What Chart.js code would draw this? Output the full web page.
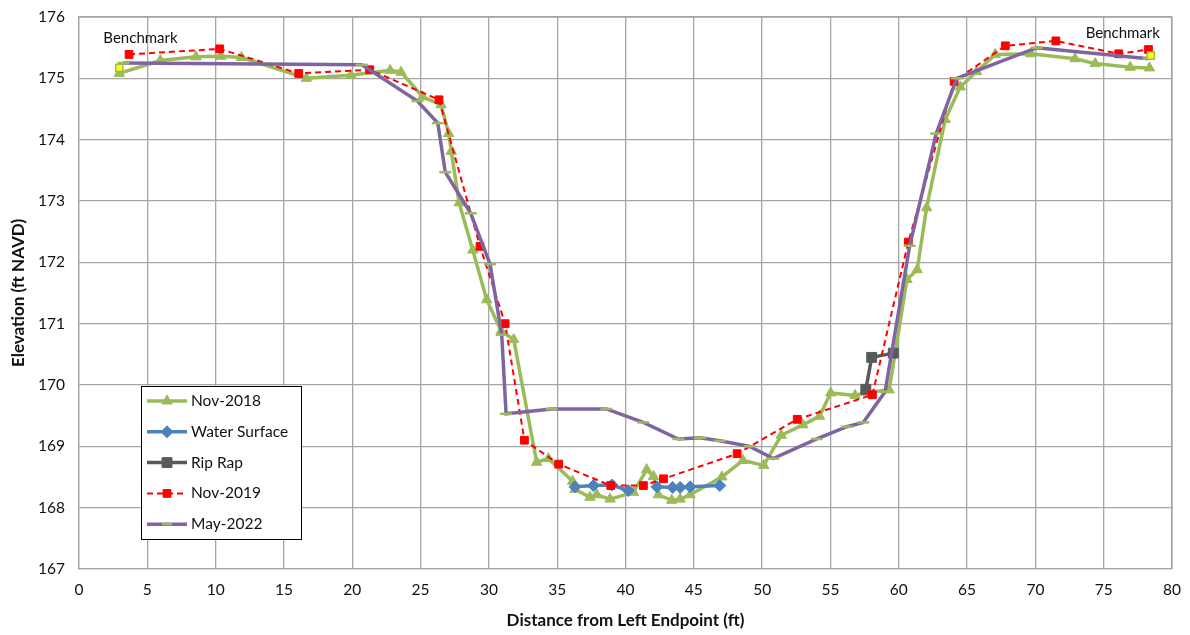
<!DOCTYPE html>
<html>
<head>
<meta charset="utf-8">
<script src="https://cdn.jsdelivr.net/npm/chart.js@4/dist/chart.umd.min.js"></script>
<style>
  html, body { margin: 0; padding: 0; background: #fff; }
  #wrap { width: 1190px; height: 635px; position: relative; }
</style>
</head>
<body>
<div id="wrap"><canvas id="chart"></canvas></div>
<script>
// survey points (distance ft, elevation ft NAVD)
const nov2018X = [2.95, 5.95, 8.56, 10.37, 11.9, 16.64, 19.9, 22.77, 23.57, 25.15, 26.5, 27.06, 27.25, 27.82, 28.82, 29.84, 30.9, 31.82, 33.5, 34.36, 36.13, 36.3, 37.4, 37.9, 38.87, 40.58, 41.55, 42.05, 42.4, 43.38, 44.0, 44.73, 47.05, 48.6, 50.12, 51.4, 52.98, 54.2, 55.02, 56.8, 57.6, 59.3, 60.6, 61.35, 62.04, 63.4, 64.5, 65.7, 67.06, 69.67, 72.9, 74.38, 76.94, 78.35];
const nov2018Y = [175.08, 175.29, 175.35, 175.36, 175.34, 175.0, 175.05, 175.13, 175.1, 174.7, 174.57, 174.1, 173.81, 172.97, 172.2, 171.39, 170.88, 170.74, 168.74, 168.8, 168.43, 168.3, 168.17, 168.21, 168.14, 168.25, 168.62, 168.51, 168.21, 168.12, 168.14, 168.21, 168.5, 168.77, 168.69, 169.18, 169.35, 169.49, 169.87, 169.83, 169.88, 169.92, 171.72, 171.88, 172.89, 174.33, 174.86, 175.11, 175.39, 175.4, 175.32, 175.24, 175.18, 175.17];

const waterX = [36.3, 37.65, 39.0, 40.2, 41.2, 42.3, 43.45, 44.0, 44.73, 46.9];
const waterY = [168.34, 168.36, 168.37, 168.28, null, 168.34, 168.33, 168.33, 168.34, 168.36];

const ripRapX = [57.59, 58.02, 59.6];
const ripRapY = [169.93, 170.45, 170.52];

const nov2019X = [3.66, 10.3, 16.08, 21.28, 26.35, 29.35, 31.19, 32.6, 35.11, 38.92, 41.31, 42.78, 48.17, 52.57, 58.07, 60.7, 64.05, 67.8, 71.5, 76.1, 78.28];
const nov2019Y = [175.39, 175.48, 175.08, 175.14, 174.65, 172.26, 171.0, 169.1, 168.71, 168.36, 168.36, 168.47, 168.88, 169.44, 169.84, 172.33, 174.95, 175.53, 175.61, 175.4, 175.47];

const may2022X = [3.25, 20.7, 24.77, 26.26, 26.81, 28.67, 30.09, 30.94, 31.26, 34.6, 38.6, 41.3, 43.87, 45.46, 46.9, 49.1, 50.8, 54.0, 56.2, 57.4, 59.0, 60.8, 62.74, 64.25, 70.1, 78.28];
const may2022Y = [175.25, 175.22, 174.63, 174.27, 173.47, 172.8, 171.97, 170.82, 169.53, 169.61, 169.61, 169.39, 169.12, 169.14, 169.09, 169.0, 168.8, 169.12, 169.32, 169.39, 169.89, 172.27, 174.1, 175.0, 175.5, 175.32];

const benchX = [2.95, 78.45];
const benchY = [175.17, 175.37];

const benchLabels = [
  { text: 'Benchmark', x: 4.5, y: 175.66 },
  { text: 'Benchmark', x: 76.4, y: 175.74 }
];

function pts(xs, ys) {
  return xs.map((x, i) => ({ x: x, y: ys[i] }));
}

const FONT = 'Lato, "Open Sans", sans-serif';
const GRID = '#A6A6A6';

const datasets = [
  {
    label: 'Nov-2018', data: pts(nov2018X, nov2018Y), order: 5,
    borderColor: '#9BBB59', backgroundColor: '#9BBB59', borderWidth: 3.5,
    pointStyle: 'triangle', pointRadius: 6, pointBorderWidth: 1,
    pointBackgroundColor: '#9BBB59', pointBorderColor: '#9BBB59'
  },
  {
    label: 'Water Surface', data: pts(waterX, waterY), order: 4, spanGaps: false,
    borderColor: '#4F81BD', backgroundColor: '#4F81BD', borderWidth: 3.5,
    pointStyle: 'rectRot', pointRadius: 6, pointBorderWidth: 1,
    pointBackgroundColor: '#4F81BD', pointBorderColor: '#4F81BD'
  },
  {
    label: 'Rip Rap', data: pts(ripRapX, ripRapY), order: 3,
    borderColor: '#595959', backgroundColor: '#595959', borderWidth: 3.5,
    pointStyle: 'rect', pointRadius: 7, pointBorderWidth: 1,
    pointBackgroundColor: '#595959', pointBorderColor: '#595959'
  },
  {
    label: 'Nov-2019', data: pts(nov2019X, nov2019Y), order: 2,
    borderColor: '#FF0000', backgroundColor: '#FF0000', borderWidth: 2, borderDash: [6, 4],
    pointStyle: 'rect', pointRadius: 5.5, pointBorderWidth: 1,
    pointBackgroundColor: '#FF0000', pointBorderColor: '#FF0000'
  },
  {
    label: 'May-2022', data: pts(may2022X, may2022Y), order: 1,
    borderColor: '#8064A2', backgroundColor: '#8064A2', borderWidth: 3.5,
    pointStyle: 'line', pointRadius: 6, pointBorderWidth: 2.5,
    pointBackgroundColor: '#9BBB59', pointBorderColor: '#9BBB59'
  },
  {
    label: 'Benchmark', data: pts(benchX, benchY), order: 0, showLine: false,
    pointStyle: 'rect', pointRadius: 5, pointBorderWidth: 1.5,
    pointBackgroundColor: '#FFFF00', pointBorderColor: '#9BBB59'
  }
];

// frame, legend box inside the plot, benchmark notes
const boxPlugin = {
  id: 'boxLegend',
  beforeDatasetsDraw(chart) {
    const a = chart.chartArea, ctx = chart.ctx;
    ctx.save();
    ctx.strokeStyle = GRID;
    ctx.lineWidth = 1.3;
    ctx.beginPath();
    ctx.moveTo(a.left, a.top);
    ctx.lineTo(a.right, a.top);
    ctx.lineTo(a.right, a.bottom);
    ctx.stroke();
    ctx.restore();
  },
  afterDatasetsDraw(chart) {
    const ctx = chart.ctx;
    const xs = chart.scales.x, ys = chart.scales.y;
    ctx.save();
    ctx.font = '15px ' + FONT;
    ctx.fillStyle = '#111';
    ctx.textAlign = 'center';
    ctx.textBaseline = 'middle';
    benchLabels.forEach(b => ctx.fillText(b.text, xs.getPixelForValue(b.x), ys.getPixelForValue(b.y)));

    const left = chart.chartArea.left + 62;
    const top = chart.chartArea.top + 369;
    const w = 160, h = 153;
    ctx.fillStyle = '#fff';
    ctx.fillRect(left, top, w, h);
    ctx.strokeStyle = '#000';
    ctx.lineWidth = 1;
    ctx.strokeRect(left + 0.5, top + 0.5, w, h);

    const items = datasets.filter(d => d.label !== 'Benchmark');
    items.forEach((d, i) => {
      const y = top + 15 + i * 30.8;
      const x0 = left + 6, x1 = left + 46;
      ctx.save();
      ctx.strokeStyle = d.borderColor;
      ctx.lineWidth = d.borderWidth;
      if (d.borderDash) ctx.setLineDash(d.borderDash);
      ctx.beginPath();
      ctx.moveTo(x0, y);
      ctx.lineTo(x1, y);
      ctx.stroke();
      ctx.restore();
      ctx.save();
      ctx.fillStyle = d.pointBackgroundColor;
      ctx.strokeStyle = d.pointBorderColor;
      ctx.lineWidth = d.pointBorderWidth;
      Chart.helpers.drawPoint(ctx, {
        pointStyle: d.pointStyle,
        radius: d.label === 'May-2022' ? 5 : d.pointRadius,
        rotation: 0,
        borderWidth: d.pointBorderWidth
      }, (x0 + x1) / 2, y);
      ctx.restore();
      ctx.fillStyle = '#111';
      ctx.textAlign = 'left';
      ctx.font = '15.5px ' + FONT;
      ctx.fillText(d.label, x1 + 4, y);
    });
    ctx.restore();
  }
};

new Chart(document.getElementById('chart'), {
  type: 'scatter',
  data: { datasets: datasets },
  options: {
    responsive: true,
    maintainAspectRatio: false,
    animation: false,
    datasets: { scatter: { showLine: true } },
    layout: { padding: { top: 17, right: 18, left: 0, bottom: 0 } },
    plugins: { legend: { display: false }, tooltip: { enabled: false } },
    scales: {
      x: {
        type: 'linear', min: 0, max: 80,
        ticks: { stepSize: 5, color: '#111', font: { family: FONT, size: 15.5 }, padding: 12 },
        grid: { color: GRID, lineWidth: 1.3, drawTicks: false },
        border: { color: GRID, width: 1.3 },
        title: { display: true, text: 'Distance from Left Endpoint (ft)', color: '#111', font: { family: FONT, size: 17, weight: 'bold' }, padding: { top: 6 } },
        afterFit(scale) { scale.height = 66; scale.paddingLeft = 0; scale.paddingRight = 0; }
      },
      y: {
        min: 167, max: 176,
        ticks: { stepSize: 1, color: '#111', font: { family: FONT, size: 15.5 }, padding: 14 },
        grid: { color: GRID, lineWidth: 1.3, drawTicks: false },
        border: { color: GRID, width: 1.3 },
        title: { display: true, text: 'Elevation (ft NAVD)', color: '#111', font: { family: FONT, size: 17, weight: 'bold' }, padding: { top: 8, bottom: 4 } },
        afterFit(scale) { scale.width = 79; scale.paddingTop = 0; scale.paddingBottom = 0; }
      }
    }
  },
  plugins: [boxPlugin]
});
</script>
</body>
</html>
